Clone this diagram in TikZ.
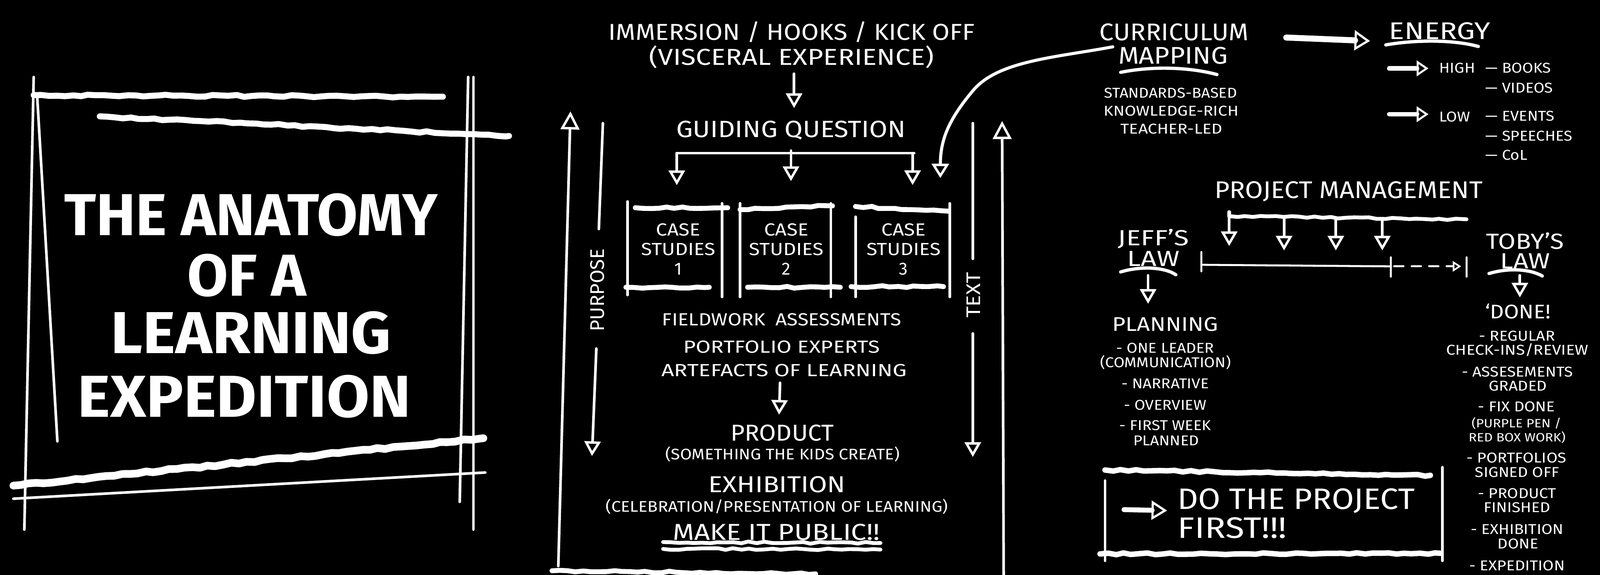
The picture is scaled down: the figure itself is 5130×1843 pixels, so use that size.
\documentclass[tikz,border=0pt]{standalone}
\usepackage{fontspec}
\usepackage{graphicx}
\setmainfont{Fira Sans}
\usetikzlibrary{arrows.meta,decorations.pathmorphing,calc}
\newcommand\fsz[1]{\fontsize{#1pt}{1.12\dimexpr#1pt\relax}\selectfont}
\newcommand\hs[2]{\scalebox{#1}[1]{#2}}
\tikzset{
  chalk/.style={draw=white, line cap=round, line join=round},
  chthin/.style={chalk, line width=2.4pt},
  chthick/.style={chalk, line width=4.5pt, decorate, decoration={random steps, segment length=2.5mm, amplitude=0.3mm}},
  chshaft/.style={chalk, line width=4.5pt},
  lbl/.style={text=white, inner sep=0pt, anchor=base, font=\fsz{#1}},
  ahd/.style={-{Triangle[open,length=4.7mm,width=5.2mm,line width=2.2pt]}},
  ahup/.style={-{Triangle[open,length=5.8mm,width=6mm,line width=2.2pt]}},
  ahbig/.style={-{Triangle[open,length=5mm,width=6.4mm,line width=2pt]}},
  ahsm/.style={-{Triangle[open,length=3.8mm,width=5mm,line width=1.8pt]}},
  ahtiny/.style={-{Triangle[open,length=2.7mm,width=3.3mm,line width=1.5pt]}},
}
\begin{document}
\begin{tikzpicture}[x=0.1mm,y=-0.1mm]
\fill[black] (0,0) rectangle (5130,1843);
\useasboundingbox (0,0) rectangle (5130,1843);

% ---------------- title panel ----------------
\draw[chthin] (108,247) -- (78,1698);
\draw[chthin] (119,305) -- (184,1415);
\draw[chthin] (1501,247) -- (1474,1609);
\draw[chthin] (1518,247) -- (1518,1698);
\draw[chthick,line width=5.5pt] (108,305) -- (1420,310);
\draw[chthick,line width=5.5pt] (320,373) -- (1632,436);
\draw[chthick,line width=7pt] (43,1557) -- (1550,1405);
\draw[chthin] (43,1599) -- (1556,1515);
\node[lbl=54,font=\bfseries\fsz{54}] (t1) at (805,755) {THE ANATOMY};
\node[lbl=54,font=\bfseries\fsz{54}] (t2) at (791,949) {OF A};
\node[lbl=54,font=\bfseries\fsz{54}] (t3) at (805,1133) {\hs{1.05}{LEARNING}};
\node[lbl=54,font=\bfseries\fsz{54}] (t4) at (783,1337) {\hs{1.05}{EXPEDITION}};

% ---------------- middle panel ----------------
\node[lbl=21] (imm) at (2538,129) {\hs{1.1}{IMMERSION / HOOKS / KICK OFF}};
\node[lbl=21] (visc) at (2538,208) {\hs{1.18}{(VISCERAL EXPERIENCE)}};
\node[lbl=21.5] (gq) at (2536,440) {\hs{1.12}{GUIDING QUESTION}};
\draw[chthin,ahd] ([shift={(8,17)}]visc.south) -- ([shift={(10,-40)}]gq.north);

\node[lbl=16,align=center,anchor=center] (cs1) at (2175,799) {\hs{1.14}{CASE}\\\hs{1.14}{STUDIES}\\1};
\node[lbl=16,align=center,anchor=center] (cs2) at (2521,799) {\hs{1.14}{CASE}\\\hs{1.14}{STUDIES}\\2};
\node[lbl=16,align=center,anchor=center] (cs3) at (2897,799) {\hs{1.14}{CASE}\\\hs{1.14}{STUDIES}\\3};

\coordinate (brL) at (2170,491);
\coordinate (brM) at (2536,491);
\coordinate (brR) at (2931,491);
\draw[chthin] (brL) -- (brR);
\draw[chthin] (brM) -- ++(0,-8);
\draw[chthin,ahd] (brL) -- ([shift={(-5,-122)}]cs1.north);
\draw[chthin,ahd] (brM) -- ([shift={(15,-135)}]cs2.north);
\draw[chthin,ahd] (brR -| 2926,0) -- ([shift={(29,-122)}]cs3.north);

% boxes
\draw[chthin] (2012,646) -- (2012,946);
\draw[chthick] (2037,666) -- (2333,666);
\draw[chthin] (2315,652) -- (2315,952);
\draw[chthick] (2007,921) -- (2274,921);
\draw[chthin] (2373,652) -- (2373,952);
\draw[chthick] (2373,672) -- (2669,660);
\draw[chthin] (2664,652) -- (2664,952);
\draw[chthick] (2397,921) -- (2694,921);
\draw[chthin] (2743,695) -- (2743,952);
\draw[chthick] (2743,662) -- (3040,677);
\draw[chthin] (3045,652) -- (3045,952);
\draw[chthick] (2729,919) -- (3025,919);

% side lines
\node[lbl=18,rotate=90,anchor=center] (purpose) at (1915,930) {PURPOSE};
\node[lbl=18,rotate=90,anchor=center] (textl) at (3121,946) {\hs{1.1}{TEXT}};
\draw[chthin,ahup] (1790,1815) -- (1829,357);
\draw[chthin] (1933,395) -- ([shift={(5,-62)}]purpose.east);
\draw[chthin,ahd] ([shift={(-3,54)}]purpose.west) -- (1898,1462);
\draw[chthin] (3119,395) -- ([shift={(-2,-42)}]textl.east);
\draw[chthin,ahd] ([shift={(-2,49)}]textl.west) -- (3119,1465);
\draw[chthin,ahup] (3218,1843) -- (3213,388);

\node[lbl=16] (fw) at (2506,1044) {\hs{1.14}{FIELDWORK\enspace ASSESSMENTS}};
\node[lbl=16] (pe) at (2506,1131) {\hs{1.23}{PORTFOLIO EXPERTS}};
\node[lbl=16] (art) at (2514,1207) {\hs{1.27}{ARTEFACTS OF LEARNING}};
\node[lbl=21] (prod) at (2508,1413) {\hs{1.06}{PRODUCT}};
\draw[chthin,ahd] ([shift={(-13,19)}]art.south) -- ([shift={(-10,-31)}]prod.north);
\node[lbl=14] (prodsub) at (2509,1473) {\hs{1.1}{(SOMETHING THE KIDS CREATE)}};
\node[lbl=21] (exh) at (2491,1579) {\hs{1.16}{EXHIBITION}};
\node[lbl=14] (exhsub) at (2491,1641) {\hs{1.11}{(CELEBRATION/PRESENTATION OF LEARNING)}};
\node[lbl=21] (pub) at (2489,1731) {\hs{1.2}{MAKE IT PUBLIC!!}};
\draw[chthick,line width=3.5pt] (2126,1738) -- (2823,1741);
\draw[chthick,line width=3.5pt] (2126,1760) -- (2823,1762);
\draw[chthick,line width=4.5pt] (1770,1830) -- (2615,1840);

% ---------------- right panel ----------------
\node[lbl=22] (cur) at (3764,130) {\hs{1.06}{CURRICULUM}};
\node[lbl=22] (map) at (3761,205) {\hs{1.1}{MAPPING}};
\draw[chalk,line width=3pt] (3593,232) .. controls (3680,214) and (3800,212) .. (3902,239);
\node[lbl=13] (std) at (3753,314) {\hs{1.09}{STANDARDS-BASED}};
\node[lbl=13] (kr) at (3755,371) {\hs{1.16}{KNOWLEDGE-RICH}};
\node[lbl=13] (tl) at (3756,429) {\hs{1.18}{TEACHER-LED}};

\draw[chalk,line width=2.8pt,-{Triangle[open,length=4.6mm,width=5.5mm,line width=2.2pt]}]
  ([shift={(-17,0)}]map.north west) .. controls (3380,185) and (3200,195) .. (3120,290)
  .. controls (3040,385) and (3015,450) .. (3015,571);

\node[lbl=22] (en) at (4616,126) {\hs{1.2}{ENERGY}};
\draw[chalk,line width=3pt] (4443,144) .. controls (4540,127) and (4660,127) .. (4740,149);
\draw[chshaft,line width=5.5pt,ahbig] ([shift={(120,17)}]cur.east) -- ([shift={(-60,32)}]en.west);

\node[lbl=13,anchor=base west] (high) at (4614,233) {\hs{1.1}{HIGH}};
\node[lbl=13,anchor=base west] (books) at (4762,233) {\hs{1.1}{--- BOOKS}};
\node[lbl=13,anchor=base west] (videos) at (4762,298) {\hs{1.1}{--- VIDEOS}};
\node[lbl=13,anchor=base west] (low) at (4614,390) {\hs{1.1}{LOW}};
\node[lbl=13,anchor=base west] (events) at (4762,388) {\hs{1.1}{--- EVENTS}};
\node[lbl=13,anchor=base west] (speeches) at (4762,452) {\hs{1.1}{--- SPEECHES}};
\node[lbl=13,anchor=base west] (col) at (4762,513) {\hs{1.1}{--- CoL}};
\draw[chshaft,line width=4pt,ahsm] ([shift={(-160,2)}]high.west) -- ([shift={(-34,2)}]high.west);
\draw[chshaft,line width=4pt,ahsm] ([shift={(-160,-8)}]low.west) -- ([shift={(-34,-8)}]low.west);

\node[lbl=22] (pm) at (4324,636) {\hs{1.08}{PROJECT MANAGEMENT}};
\coordinate (pmL) at (3941,693);
\coordinate (pmR) at (4702,703);
\draw[chthick,line width=3.5pt] (3941,680) -- (pmL) -- (pmR);
\draw[chthin,ahd] (pmL) -- (3941,789);
\draw[chthin,ahd] (4117,700) -- (4117,803);
\draw[chthin,ahd] (4283,701) -- (4283,803);
\draw[chthin,ahd] (4432,702) -- (4432,803);

\node[lbl=20] (jeff) at (3698,787) {\hs{1.25}{JEFF'S}};
\node[lbl=20] (jlaw) at (3698,854) {\hs{1.26}{LAW}};
\draw[chalk,line width=3pt] (3593,872) .. controls (3650,854) and (3730,854) .. (3770,881);
\node[lbl=20] (toby) at (4890,799) {\hs{1.15}{TOBY'S}};
\node[lbl=20] (tlaw) at (4890,861) {\hs{1.2}{LAW}};
\draw[chalk,line width=3pt] (4774,877) .. controls (4830,860) and (4900,860) .. (4945,885);

\coordinate (tl0) at (3852,849);
\coordinate (tl1) at (4459,854);
\coordinate (tl2) at (4702,854);
\draw[chthin,line width=1.8pt] (3852,808) -- (3852,870);
\draw[chthin,line width=1.8pt] (tl0) -- (tl1);
\draw[chthin,line width=1.8pt] (4459,825) -- (4459,887);
\draw[chthin,line width=1.8pt,dash pattern=on 3mm off 2.6mm,ahtiny] (4470,854) -- ([xshift=-1.7mm]tl2);
\draw[chthin,line width=1.8pt] (4702,825) -- (4702,887);

\node[lbl=18] (plan) at (3736,1062) {\hs{1.16}{PLANNING}};
\draw[chthin,ahd] ([shift={(-17,28)}]jlaw.south) -- ([shift={(-55,-43)}]plan.north);
\node[lbl=13] (ol) at (3736,1131) {\hs{1.1}{- ONE LEADER}};
\node[lbl=13] (comm) at (3737,1178) {\hs{1.1}{(COMMUNICATION)}};
\node[lbl=13] (narr) at (3736,1246) {\hs{1.1}{- NARRATIVE}};
\node[lbl=13] (ov) at (3736,1314) {\hs{1.1}{- OVERVIEW}};
\node[lbl=13] (fwk) at (3736,1380) {\hs{1.1}{- FIRST WEEK}};
\node[lbl=13] (pld) at (3739,1428) {\hs{1.1}{PLANNED}};

\node[lbl=18] (done) at (4867,1021) {\hs{1.1}{‘DONE!}};
\draw[chthin,ahd] ([shift={(-17,21)}]tlaw.south) -- ([shift={(6,-19)}]done.north);
\node[lbl=13] (reg) at (4864,1093) {\hs{1.12}{- REGULAR}};
\node[lbl=13] (chk) at (4865,1138) {\hs{1.15}{CHECK-INS/REVIEW}};
\node[lbl=13] (ass) at (4865,1208) {\hs{1.12}{- ASSESEMENTS}};
\node[lbl=13] (grd) at (4867,1253) {\hs{1.12}{GRADED}};
\node[lbl=13] (fix) at (4862,1320) {\hs{1.12}{- FIX DONE}};
\node[lbl=11] (pp) at (4862,1371) {\hs{1.12}{(PURPLE PEN /}};
\node[lbl=11] (rbw) at (4864,1416) {\hs{1.12}{RED BOX WORK)}};
\node[lbl=13] (port) at (4862,1483) {\hs{1.12}{- PORTFOLIOS}};
\node[lbl=13] (sig) at (4864,1530) {\hs{1.12}{SIGNED OFF}};
\node[lbl=13] (prd) at (4864,1598) {\hs{1.12}{- PRODUCT}};
\node[lbl=13] (fin) at (4864,1643) {\hs{1.12}{FINISHED}};
\node[lbl=13] (exd) at (4864,1713) {\hs{1.12}{- EXHIBITION}};
\node[lbl=13] (dn) at (4867,1759) {\hs{1.12}{DONE}};
\node[lbl=13] (expd) at (4864,1829) {\hs{1.12}{- EXPEDITION}};

% do the project box
\draw[chthick,line width=5pt] (3543,1507) -- (4586,1524);
\draw[chthin] (3543,1541) -- (3543,1798);
\draw[chthin] (4625,1498) -- (4625,1798);
\draw[chthick,line width=5pt] (3527,1776) -- (4619,1774);
\node[lbl=27,anchor=base west] (dtp) at (3775,1632) {\hs{1.09}{DO THE PROJECT}};
\node[lbl=27,anchor=base west] (first) at (3775,1725) {\hs{1.17}{FIRST!!!}};
\draw[chshaft,line width=4.5pt,-{Triangle[open,length=5mm,width=6.1mm,line width=2pt]}]
  ([shift={(-171,2)}]dtp.base west) -- ([shift={(-33,5)}]dtp.base west);
\end{tikzpicture}
\end{document}
